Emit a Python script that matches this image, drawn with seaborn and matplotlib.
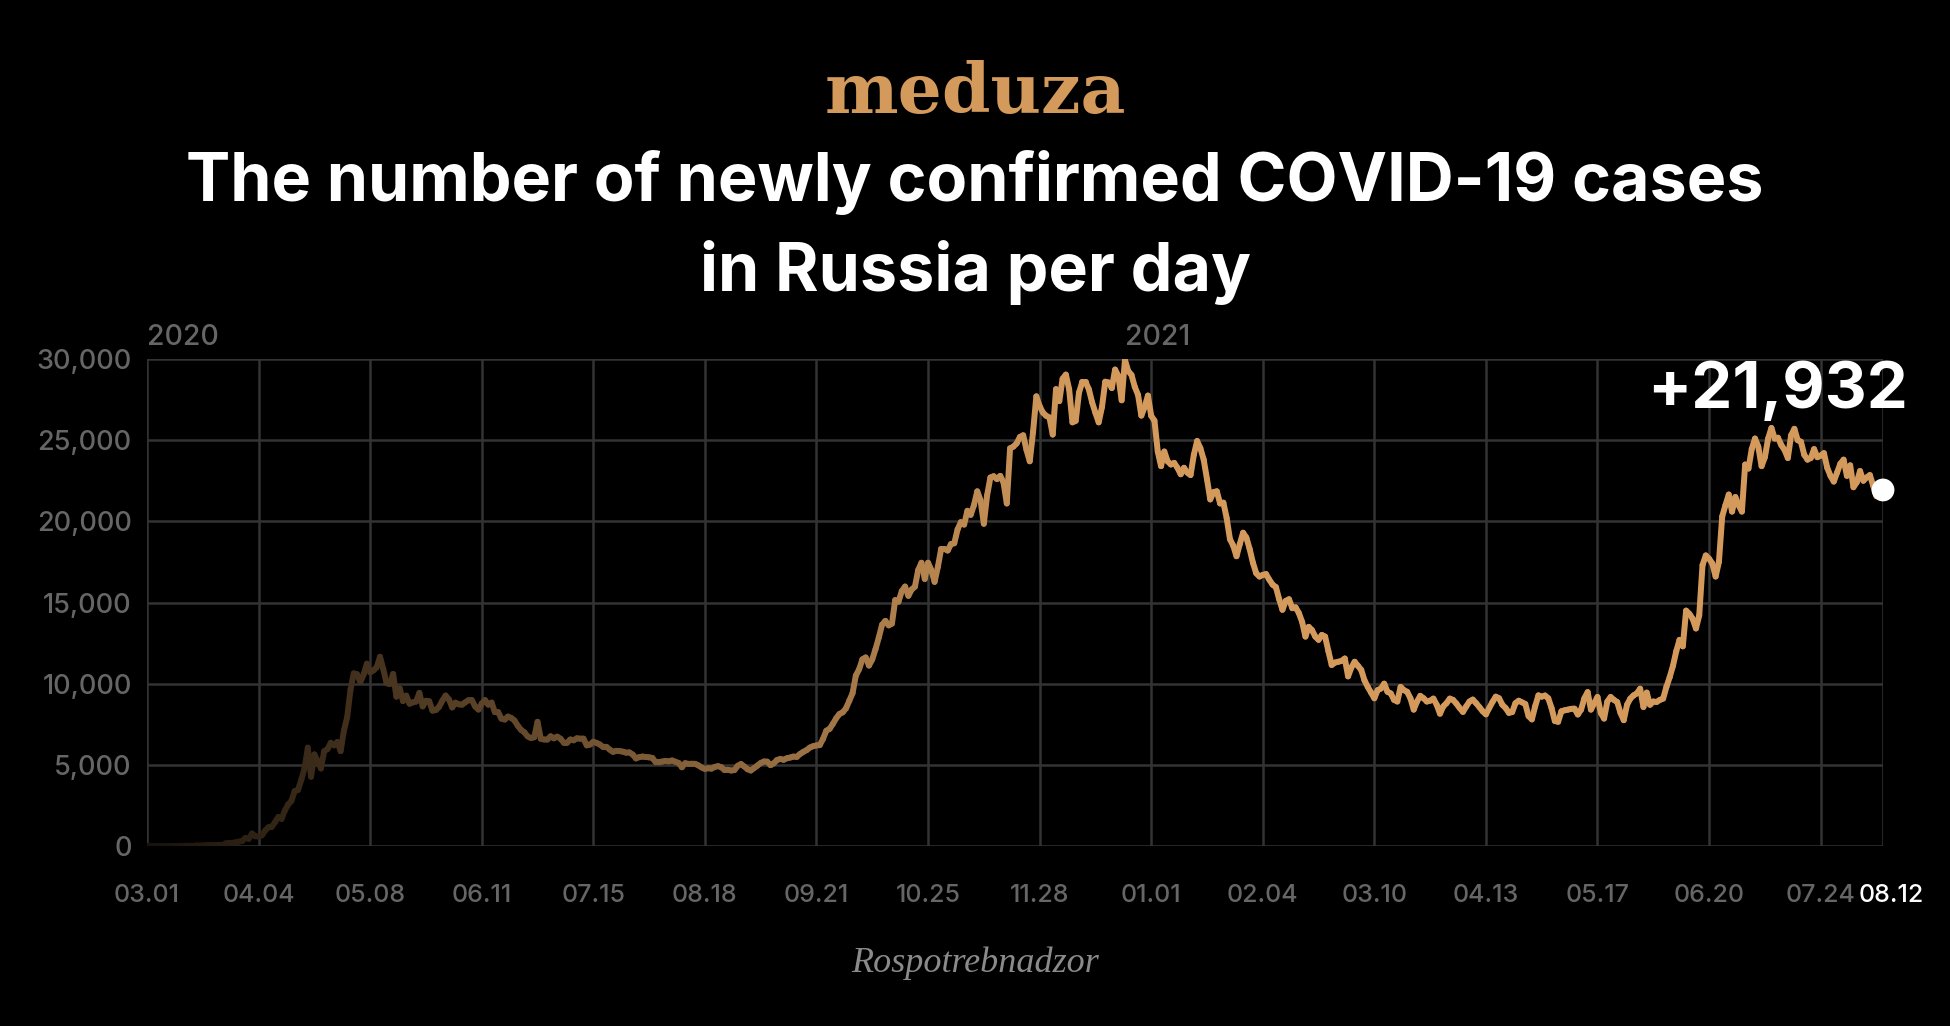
import numpy as np
import pandas as pd
import matplotlib
matplotlib.use("Agg")
import matplotlib.pyplot as plt
from matplotlib.colors import LinearSegmentedColormap
from matplotlib.transforms import ScaledTranslation
import seaborn as sns

# daily new cases
cases_2020_03 = [0, 1, 0, 0, 0, 1, 4, 3, 0, 3, 8, 6, 11, 14, 4, 30, 21, 33, 52, 54,
                 53, 61, 71, 57, 163, 182, 196, 228, 270, 302, 501]
cases_2020_04 = [440, 771, 601, 582, 658, 954, 1154, 1175, 1459, 1786, 1667, 2186, 2558, 2774, 3388,
                 3448, 4070, 4785, 6060, 4268, 5642, 5236, 4774, 5849, 5966, 6361, 6198, 6411, 5841, 7099]
cases_2020_05 = [7933, 9623, 10633, 10581, 10102, 10559, 11231, 10699, 10817, 11012, 11656, 10899, 10028,
                 9974, 10598, 9200, 9709, 8926, 9263, 8764, 8849, 8894, 9434, 8599, 8946, 8915, 8338,
                 8371, 8572, 8952, 9268]
cases_2020_06 = [9035, 8536, 8831, 8726, 8705, 8855, 8984, 8985, 8595, 8404, 8779, 8987, 8706, 8835, 8246,
                 8248, 7843, 7790, 7972, 7889, 7728, 7400, 7150, 7000, 6750, 6650, 6700, 7650, 6600, 6560]
cases_2020_07 = [6556, 6760, 6632, 6736, 6611, 6368, 6368, 6562, 6509, 6635, 6611, 6615, 6200, 6248, 6422,
                 6350, 6250, 6100, 6109, 5940, 5800, 5862, 5848, 5811, 5750, 5765, 5635, 5395, 5475,
                 5509, 5482]
cases_2020_08 = [5462, 5427, 5159, 5159, 5204, 5241, 5212, 5267, 5189, 5118, 4850, 5102, 5057, 5065, 5061,
                 4969, 4839, 4748, 4790, 4767, 4870, 4921, 4852, 4676, 4696, 4650, 4676, 4941, 5050,
                 4897, 4729]
cases_2020_09 = [4650, 4800, 4952, 5110, 5205, 5195, 4980, 5099, 5300, 5363, 5310, 5406, 5449, 5509, 5488,
                 5670, 5800, 5905, 6065, 6148, 6196, 6215, 6600, 7100, 7212, 7523, 7867, 8135, 8232, 8481]
cases_2020_10 = [8945, 9412, 10499, 10888, 11500, 11615, 11115, 11493, 12126, 12846, 13634, 13868, 13592,
                 13700, 15150, 15050, 15700, 15982, 15410, 15800, 15971, 17000, 17450, 16450, 17450,
                 17000, 16270, 17200, 18300, 18300, 18200]
cases_2020_11 = [18600, 18650, 19500, 19950, 19800, 20650, 20400, 21000, 21850, 21300, 19850, 21600, 22700,
                 22780, 22600, 22800, 22400, 21100, 24500, 24600, 24800, 25200, 25300, 24400, 23700,
                 25500, 27700, 27100, 26700, 26500]
cases_2020_12 = [26400, 25345, 28145, 27403, 28782, 29039, 28137, 26097, 26190, 27927, 28585, 28585, 28137,
                 27328, 26689, 26097, 27039, 28600, 28552, 28209, 29350, 28948, 27457, 29935, 29258,
                 29018, 28284, 27787, 26513, 27039, 27747]
cases_2021_01 = [26500, 26200, 24300, 23400, 24300, 23700, 23500, 23600, 23300, 22900, 23300, 23000, 22850,
                 24100, 24950, 24500, 23800, 22600, 21350, 21800, 21850, 21100, 21150, 20200, 18900,
                 18500, 17850, 18600, 19300, 19000, 18300]
cases_2021_02 = [17450, 16800, 16600, 16700, 16750, 16400, 16100, 15950, 15200, 14550, 15100, 15200, 14650,
                 14700, 14350, 13800, 12900, 13500, 13300, 12900, 12700, 13000, 12900, 12000, 11150,
                 11300, 11350, 11400]
cases_2021_03 = [11550, 10450, 11000, 11350, 11100, 10850, 10200, 9800, 9450, 9100, 9600, 9700, 10000, 9500,
                 9400, 9000, 8900, 9800, 9600, 9500, 9100, 8400, 8900, 9250, 9100, 8900, 8950, 9080,
                 8700, 8150, 8600]
cases_2021_04 = [8800, 9080, 9000, 8770, 8500, 8260, 8600, 8900, 9020, 8800, 8560, 8300, 8110, 8500, 8870,
                 9200, 9100, 8700, 8500, 8200, 8250, 8800, 8950, 8850, 8750, 8000, 7800, 8600, 9280, 9200]
cases_2021_05 = [9270, 9100, 8500, 7700, 7650, 8300, 8360, 8400, 8450, 8460, 8100, 8400, 9100, 9480, 8400,
                 8800, 9180, 8200, 7850, 8900, 9180, 9000, 8870, 8200, 7750, 8700, 9080, 9280, 9400,
                 9690, 8560]
cases_2021_06 = [9450, 8700, 8900, 8870, 9000, 9080, 9800, 10400, 11100, 12000, 12700, 12300, 14500, 14300,
                 14000, 13400, 14200, 17300, 17900, 17700, 17400, 16600, 17500, 20300, 21000, 21650,
                 20600, 21500, 21000, 20600]
cases_2021_07 = [23500, 23250, 24450, 25100, 24600, 23400, 23950, 25100, 25750, 25100, 25150, 24700, 24400,
                 23900, 25300, 25700, 25000, 24900, 24100, 23800, 23900, 24450, 23950, 24050, 24200,
                 23300, 22800, 22450, 23000, 23550, 23800]
cases_2021_08 = [22800, 23450, 22100, 22400, 23100, 22500, 22700, 22850, 22200, 21550, 21750, 21932]

month_series = [cases_2020_03, cases_2020_04, cases_2020_05, cases_2020_06, cases_2020_07, cases_2020_08,
                cases_2020_09, cases_2020_10, cases_2020_11, cases_2020_12, cases_2021_01, cases_2021_02,
                cases_2021_03, cases_2021_04, cases_2021_05, cases_2021_06, cases_2021_07, cases_2021_08]
cases = [v for month in month_series for v in month]
dates = pd.date_range("2020-03-01", periods=len(cases), freq="D")

tick_dates = pd.to_datetime(["2020-03-01", "2020-04-04", "2020-05-08", "2020-06-11", "2020-07-15",
                             "2020-08-18", "2020-09-21", "2020-10-25", "2020-11-28", "2021-01-01",
                             "2021-02-04", "2021-03-10", "2021-04-13", "2021-05-17", "2021-06-20",
                             "2021-07-24", "2021-08-12"])
y_ticks = [0, 5000, 10000, 15000, 20000, 25000, 30000]

BG = "#000000"
TAN = "#d39a5c"
GRID = "#333333"
MUTED = "#666666"

# the line fades in from black over the first months: one short segment per day
rows = []
for i in range(len(cases) - 1):
    shade = min(1.0, 0.12 + 0.88 * i / 285)
    rows.append((dates[i], cases[i], i, shade))
    rows.append((dates[i + 1], cases[i + 1], i, shade))
seg_df = pd.DataFrame(rows, columns=["date", "cases", "seg", "shade"])
fade = LinearSegmentedColormap.from_list("fade", [BG, TAN])

sns.set_theme(style="dark")
plt.rcParams["font.family"] = ["Inter", "DejaVu Sans"]

fig = plt.figure(figsize=(19.5, 10.26), dpi=100, facecolor=BG)
ax = fig.add_axes([147 / 1950, 180 / 1026, (1883 - 147) / 1950, (846 - 359) / 1026])
ax.set_facecolor(BG)

sns.lineplot(data=seg_df, x="date", y="cases", hue="shade", units="seg", estimator=None,
             palette=fade, hue_norm=(0, 1), legend=False, lw=4.3, solid_capstyle="round", ax=ax)
sns.scatterplot(x=[dates[-1]], y=[cases[-1]], s=270, color="white", edgecolor="none",
                zorder=6, clip_on=False, ax=ax)

ax.set_xlim(dates[0], dates[-1])
ax.set_ylim(0, 30000)
ax.set_xticks(tick_dates)
ax.set_xticklabels([d.strftime("%m.%d") for d in tick_dates])
ax.set_yticks(y_ticks)
ax.set_yticklabels([f"{v:,}" for v in y_ticks])
ax.set_xlabel("")
ax.set_ylabel("")
ax.grid(True, color=GRID, lw=1.8)
for s in ax.spines.values():
    s.set_visible(False)
ax.tick_params(axis="x", length=3, width=1.8, color=GRID, pad=24, labelsize=18, labelcolor=MUTED)
ax.tick_params(axis="y", length=0, pad=11, labelsize=19.5, labelcolor=MUTED)
for lab in ax.get_xticklabels() + ax.get_yticklabels():
    lab.set_fontweight("medium")
last = ax.get_xticklabels()[-1]
last.set_color("white")
last.set_transform(last.get_transform() + ScaledTranslation(8 / 100, 0, fig.dpi_scale_trans))

fig.text(147 / 1950, 1 - 345 / 1026, "2020", color=MUTED, fontsize=20.5, fontweight="medium",
         ha="left", va="baseline")
fig.text(1158 / 1950, 1 - 345 / 1026, "2021", color=MUTED, fontsize=20.5, fontweight="medium",
         ha="center", va="baseline")

fig.text(1908 / 1950, 1 - 408 / 1026, f"+{cases[-1]:,}", color="white", fontsize=47,
         fontweight="bold", ha="right", va="baseline")

fig.text(0.5, 1 - 113 / 1026, "meduza", color=TAN, fontsize=50, fontweight="bold",
         family=["DejaVu Serif"], ha="center", va="baseline")
fig.text(0.5, 1 - 201 / 1026, "The number of newly confirmed COVID-19 cases", color="white",
         fontsize=47.8, fontweight="bold", ha="center", va="baseline")
fig.text(0.5, 1 - 291 / 1026, "in Russia per day", color="white",
         fontsize=47.8, fontweight="bold", ha="center", va="baseline")
fig.text(0.5, 1 - 972 / 1026, "Rospotrebnadzor", color="#8a8a8a", fontsize=26, style="italic",
         family=["Liberation Serif"], ha="center", va="baseline")

fig.savefig("out.png", dpi=100, facecolor=BG)
